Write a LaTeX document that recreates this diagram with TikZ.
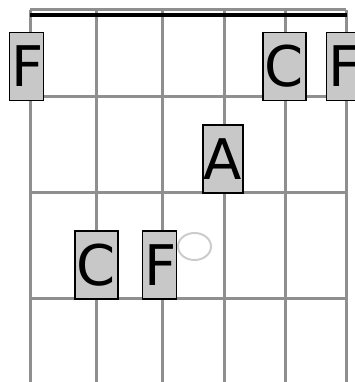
\documentclass[tikz,border=0pt]{standalone}
\usepackage{fontspec}
\setmainfont{DejaVu Sans}
\definecolor{gridgray}{HTML}{8F8F8F}
\definecolor{boxgray}{HTML}{C8C8C8}
\definecolor{ringgray}{HTML}{CCCCCC}
\begin{document}
\begin{tikzpicture}[x=1pt,y=-1pt,
  gridline/.style={draw=gridgray,line width=3pt},
  nutline/.style={draw=black,line width=3.5pt},
  notebox/.style={draw=black,line width=1.2pt,fill=boxgray,inner sep=0pt,
    minimum height=68pt,font=\fontsize{56}{60}\selectfont},
  ring/.style={draw=ringgray,line width=2pt}]
\useasboundingbox (0,0) rectangle (355,382);
% strings
\foreach \x in {30,96,162,224,285,346}
  \draw[gridline] (\x,10) -- (\x,382);
% frets
\foreach \y in {10,97,192,298}
  \draw[gridline] (30,\y) -- (346,\y);
% nut
\draw[nutline] (30,15) -- (347,15);
% notes
\node[notebox,minimum width=33pt] (f1) at (26.5,66.5) {\hspace{2pt}F};
\node[notebox,minimum width=43pt] (c1) at (284.5,66.5) {C};
\node[notebox,minimum width=33pt] (f2) at (343.5,66.5) {\hspace{2pt}F};
\node[notebox,minimum width=40pt] (a1) at (223,159) {A};
\node[notebox,minimum width=43pt] (c2) at (96.5,265) {C};
\node[notebox,minimum width=33pt] (f3) at (159.5,265) {\hspace{2pt}F};
% open ring
\draw[ring] (194.5,246.5) ellipse [x radius=16.5pt, y radius=13.5pt];
\end{tikzpicture}
\end{document}
